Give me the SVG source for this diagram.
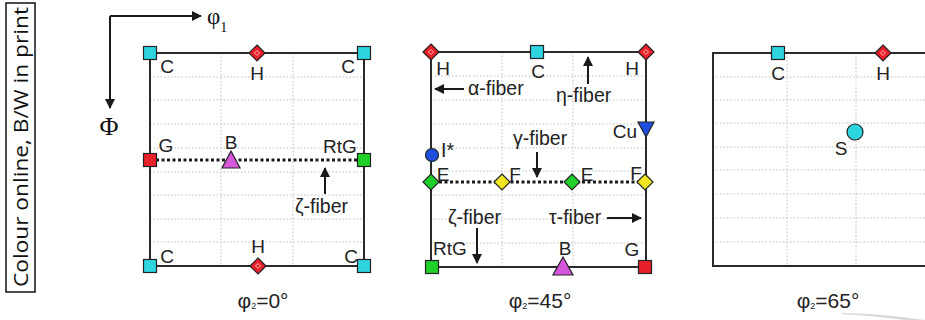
<svg xmlns="http://www.w3.org/2000/svg" width="925" height="320" viewBox="0 0 925 320">
<style>
.lbl{font-family:"Liberation Sans",Arial,sans-serif;font-size:19px;fill:#222;text-anchor:middle}
.fib{font-family:"Liberation Sans",Arial,sans-serif;font-size:19.5px;fill:#222}
.cap{font-family:"Liberation Sans",Arial,sans-serif;font-size:21px;fill:#222;text-anchor:middle}
.frame{fill:none;stroke:#2a2a2a;stroke-width:2}
.grid{fill:none;stroke:#bdbdbd;stroke-width:1;stroke-dasharray:1.5 2}
.dot{fill:none;stroke:#1a1a1a;stroke-width:3;stroke-dasharray:3 2.5}
.arr{fill:none;stroke:#1a1a1a;stroke-width:2}
.mk{stroke:#222;stroke-width:1.2}
.cy{fill:#2dd5e0}.rd{fill:#e8202a}.gr{fill:#1fd02a}.mg{fill:#d656dc}.yl{fill:#f2e524}.bl{fill:#1e4fe0}
</style>
<defs>
<marker id="ah" viewBox="0 0 10 10" refX="9" refY="5" markerWidth="5" markerHeight="5" orient="auto-start-reverse" markerUnits="strokeWidth">
<path d="M0,0 L10,5 L0,10 z" fill="#1a1a1a"/>
</marker>
<g id="sq"><rect x="-6.5" y="-6.5" width="13" height="13" class="mk"/></g>
<g id="dm"><path d="M0,-8 L8,0 L0,8 L-8,0 z" class="mk"/></g>
<g id="hd"><path d="M0,-8 L8,0 L0,8 L-8,0 z" class="mk rd"/><path d="M0,-2.5 L2.5,0 L0,2.5 L-2.5,0 z" fill="none" stroke="#ffc0c0" stroke-width="0.9"/></g>
</defs>
<rect width="925" height="320" fill="#ffffff"/>

<g id="note">
<rect x="6" y="3" width="29" height="289" fill="none" stroke="#111" stroke-width="1.5"/>
<text transform="translate(28,147) rotate(-90)" text-anchor="middle" font-family="Open Sans, sans-serif" font-size="20" fill="#111" textLength="280" lengthAdjust="spacingAndGlyphs">Colour online, B/W in print</text>
</g>

<g id="axes">
<path d="M110,16 L201,16" class="arr" marker-end="url(#ah)"/>
<path d="M110,16 L110,108" class="arr" marker-end="url(#ah)"/>
<text x="207" y="24" font-family="Liberation Serif, serif" font-size="23" fill="#111">φ<tspan font-size="14" dy="8">1</tspan></text>
<text x="109" y="135" text-anchor="middle" font-family="Liberation Serif, serif" font-size="26" fill="#111">Φ</text>
</g>

<!-- Panel 1 -->
<g id="panel1">
<path class="grid" d="M221,53V266M293,53V266M150,77H364M150,100H364M150,124H364M150,148H364M150,172H364M150,195H364M150,219H364M150,242H364"/>
<rect x="150" y="53" width="214" height="213" class="frame"/>
<text x="263" y="308" class="cap">φ<tspan font-size="9" dy="1">2</tspan><tspan dy="-1">=0°</tspan></text>
</g>

<!-- Panel 2 -->
<g id="panel2">
<path class="grid" d="M502,52V267M573,52V267M431,76H646M431,100H646M431,124H646M431,148H646M431,171H646M431,195H646M431,219H646M431,243H646"/>
<rect x="431" y="52" width="215" height="215" class="frame"/>
<text x="540" y="308" class="cap">φ<tspan font-size="9" dy="1">2</tspan><tspan dy="-1">=45°</tspan></text>
</g>

<!-- Panel 3 -->
<g id="panel3">
<path class="grid" d="M787,53V266M856,53V266M713,77H925M713,100H925M713,123H925M713,147H925M713,170H925M713,194H925M713,218H925M713,242H925"/>
<rect x="713" y="53" width="240" height="213" class="frame"/>
<text x="828" y="308" class="cap">φ<tspan font-size="9" dy="1">2</tspan><tspan dy="-1">=65°</tspan></text>
<path d="M842,313 Q885,314 925,320 L905,320 Q875,316 842,314 z" fill="#c8c8c8" opacity="0.7"/>
</g>

<g id="connectors">
<path class="dot" d="M156,160H358"/>
<path class="dot" d="M439,182H638"/>
<path class="arr" d="M325,194V168" marker-end="url(#ah)"/>
<path class="arr" d="M588,84V57" marker-end="url(#ah)"/>
<path class="arr" d="M464,89H435" marker-end="url(#ah)"/>
<path class="arr" d="M537,152V177" marker-end="url(#ah)"/>
<path class="arr" d="M477,228V263" marker-end="url(#ah)"/>
<path class="arr" d="M607,218H641" marker-end="url(#ah)"/>
</g>

<!-- Panel 1 nodes -->
<g id="p1-C-tl"><use href="#sq" x="150" y="53" class="cy"/><text x="167" y="73" class="lbl">C</text></g>
<g id="p1-H-t"><use href="#hd" x="257" y="53"/><text x="257" y="80" class="lbl">H</text></g>
<g id="p1-C-tr"><use href="#sq" x="364" y="53" class="cy"/><text x="348" y="73" class="lbl">C</text></g>
<g id="p1-G"><use href="#sq" x="150" y="160" class="rd"/><text x="166" y="152" class="lbl">G</text></g>
<g id="p1-B"><path d="M231,151 L240,168 L222,168 z" class="mk mg"/><text x="231" y="149" class="lbl">B</text></g>
<g id="p1-RtG"><use href="#sq" x="364" y="160" class="gr"/><text x="340" y="153" class="lbl">RtG</text></g>
<g id="p1-zeta"><text x="295" y="213" class="fib">ζ-fiber</text></g>
<g id="p1-C-bl"><use href="#sq" x="150" y="266" class="cy"/><text x="167" y="263" class="lbl">C</text></g>
<g id="p1-H-b"><use href="#hd" x="258" y="266"/><text x="258" y="253" class="lbl">H</text></g>
<g id="p1-C-br"><use href="#sq" x="364" y="266" class="cy"/><text x="351" y="263" class="lbl">C</text></g>

<!-- Panel 2 nodes -->
<g id="p2-H-l"><use href="#hd" x="431" y="52"/><text x="443" y="75" class="lbl">H</text></g>
<g id="p2-C"><use href="#sq" x="537" y="52" class="cy"/><text x="538" y="78" class="lbl">C</text></g>
<g id="p2-H-r"><use href="#hd" x="646" y="52"/><text x="632" y="75" class="lbl">H</text></g>
<g id="p2-alpha"><text x="468" y="95" class="fib">α-fiber</text></g>
<g id="p2-eta"><text x="556" y="102" class="fib">η-fiber</text></g>
<g id="p2-Cu"><path d="M638,122 L654,122 L646,137 z" class="mk bl"/><text x="625" y="138" class="lbl">Cu</text></g>
<g id="p2-I"><circle cx="432" cy="155" r="6.5" class="mk bl"/><text x="441" y="157" class="fib">I*</text></g>
<g id="p2-gamma"><text x="513" y="145" class="fib">γ-fiber</text></g>
<g id="p2-E1"><use href="#dm" x="431" y="182" class="gr"/><text x="443" y="181" class="lbl">E</text></g>
<g id="p2-F1"><use href="#dm" x="502" y="182" class="yl"/><text x="515" y="181" class="lbl">F</text></g>
<g id="p2-E2"><use href="#dm" x="572" y="182" class="gr"/><text x="587" y="181" class="lbl">E</text></g>
<g id="p2-F2"><use href="#dm" x="645" y="182" class="yl"/><text x="636" y="180" class="lbl">F</text></g>
<g id="p2-zeta"><text x="448" y="224" class="fib">ζ-fiber</text></g>
<g id="p2-tau"><text x="549" y="224" class="fib">τ-fiber</text></g>
<g id="p2-RtG"><use href="#sq" x="432" y="267" class="gr"/><text x="450" y="255" class="lbl">RtG</text></g>
<g id="p2-B"><path d="M563,257 L573,275 L553,275 z" class="mk mg"/><text x="565" y="255" class="lbl">B</text></g>
<g id="p2-G"><use href="#sq" x="645" y="267" class="rd"/><text x="632" y="256" class="lbl">G</text></g>

<!-- Panel 3 nodes -->
<g id="p3-C"><use href="#sq" x="778" y="53" class="cy"/><text x="778" y="80" class="lbl">C</text></g>
<g id="p3-H"><use href="#hd" x="883" y="53"/><text x="883" y="80" class="lbl">H</text></g>
<g id="p3-S"><circle cx="855" cy="132" r="8" class="mk cy"/><text x="841" y="155" class="lbl">S</text></g>
</svg>
